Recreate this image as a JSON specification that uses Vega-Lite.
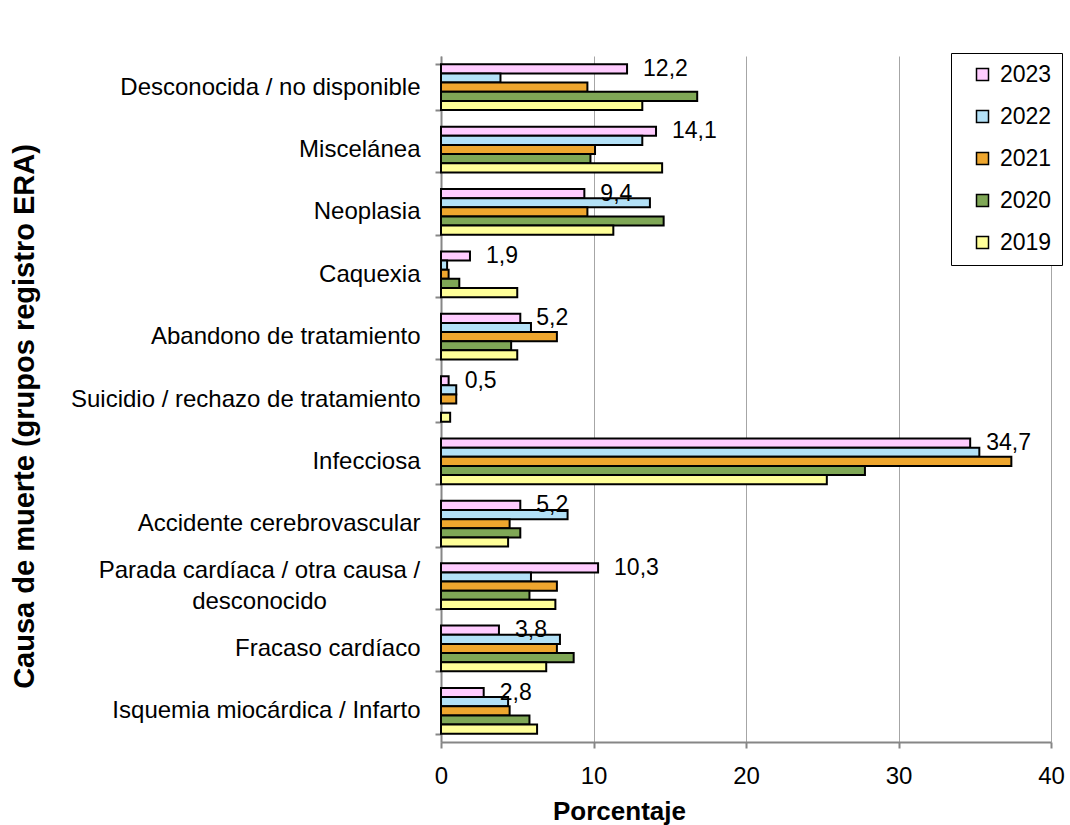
{
  "$schema": "https://vega.github.io/schema/vega-lite/v6.json",
  "width": 610,
  "height": 686,
  "autosize": {"type": "none"},
  "padding": {"left": 441, "top": 56, "right": 19, "bottom": 83},
  "background": "white",
  "config": {
    "font": "Liberation Sans",
    "locale": {"number": {"decimal": ",", "thousands": ".", "grouping": [3], "currency": ["", " €"]}},
    "view": {"stroke": null},
    "axis": {
      "domainColor": "#868686",
      "domainWidth": 2,
      "tickColor": "#868686",
      "tickWidth": 2,
      "tickSize": 6,
      "labelColor": "black",
      "titleColor": "black",
      "labelFont": "Liberation Sans",
      "titleFont": "Liberation Sans"
    }
  },
  "data": {
    "values": [
      {"cause": "Desconocida / no disponible", "year": "2023", "pct": 12.2},
      {"cause": "Desconocida / no disponible", "year": "2022", "pct": 3.9},
      {"cause": "Desconocida / no disponible", "year": "2021", "pct": 9.6},
      {"cause": "Desconocida / no disponible", "year": "2020", "pct": 16.8},
      {"cause": "Desconocida / no disponible", "year": "2019", "pct": 13.2},
      {"cause": "Miscelánea", "year": "2023", "pct": 14.1},
      {"cause": "Miscelánea", "year": "2022", "pct": 13.2},
      {"cause": "Miscelánea", "year": "2021", "pct": 10.1},
      {"cause": "Miscelánea", "year": "2020", "pct": 9.8},
      {"cause": "Miscelánea", "year": "2019", "pct": 14.5},
      {"cause": "Neoplasia", "year": "2023", "pct": 9.4},
      {"cause": "Neoplasia", "year": "2022", "pct": 13.7},
      {"cause": "Neoplasia", "year": "2021", "pct": 9.6},
      {"cause": "Neoplasia", "year": "2020", "pct": 14.6},
      {"cause": "Neoplasia", "year": "2019", "pct": 11.3},
      {"cause": "Caquexia", "year": "2023", "pct": 1.9},
      {"cause": "Caquexia", "year": "2022", "pct": 0.4},
      {"cause": "Caquexia", "year": "2021", "pct": 0.5},
      {"cause": "Caquexia", "year": "2020", "pct": 1.2},
      {"cause": "Caquexia", "year": "2019", "pct": 5.0},
      {"cause": "Abandono de tratamiento", "year": "2023", "pct": 5.2},
      {"cause": "Abandono de tratamiento", "year": "2022", "pct": 5.9},
      {"cause": "Abandono de tratamiento", "year": "2021", "pct": 7.6},
      {"cause": "Abandono de tratamiento", "year": "2020", "pct": 4.6},
      {"cause": "Abandono de tratamiento", "year": "2019", "pct": 5.0},
      {"cause": "Suicidio / rechazo de tratamiento", "year": "2023", "pct": 0.5},
      {"cause": "Suicidio / rechazo de tratamiento", "year": "2022", "pct": 1.0},
      {"cause": "Suicidio / rechazo de tratamiento", "year": "2021", "pct": 1.0},
      {"cause": "Suicidio / rechazo de tratamiento", "year": "2019", "pct": 0.6},
      {"cause": "Infecciosa", "year": "2023", "pct": 34.7},
      {"cause": "Infecciosa", "year": "2022", "pct": 35.3},
      {"cause": "Infecciosa", "year": "2021", "pct": 37.4},
      {"cause": "Infecciosa", "year": "2020", "pct": 27.8},
      {"cause": "Infecciosa", "year": "2019", "pct": 25.3},
      {"cause": "Accidente cerebrovascular", "year": "2023", "pct": 5.2},
      {"cause": "Accidente cerebrovascular", "year": "2022", "pct": 8.3},
      {"cause": "Accidente cerebrovascular", "year": "2021", "pct": 4.5},
      {"cause": "Accidente cerebrovascular", "year": "2020", "pct": 5.2},
      {"cause": "Accidente cerebrovascular", "year": "2019", "pct": 4.4},
      {"cause": "Parada cardíaca / otra causa / desconocido", "year": "2023", "pct": 10.3},
      {"cause": "Parada cardíaca / otra causa / desconocido", "year": "2022", "pct": 5.9},
      {"cause": "Parada cardíaca / otra causa / desconocido", "year": "2021", "pct": 7.6},
      {"cause": "Parada cardíaca / otra causa / desconocido", "year": "2020", "pct": 5.8},
      {"cause": "Parada cardíaca / otra causa / desconocido", "year": "2019", "pct": 7.5},
      {"cause": "Fracaso cardíaco", "year": "2023", "pct": 3.8},
      {"cause": "Fracaso cardíaco", "year": "2022", "pct": 7.8},
      {"cause": "Fracaso cardíaco", "year": "2021", "pct": 7.6},
      {"cause": "Fracaso cardíaco", "year": "2020", "pct": 8.7},
      {"cause": "Fracaso cardíaco", "year": "2019", "pct": 6.9},
      {"cause": "Isquemia miocárdica / Infarto", "year": "2023", "pct": 2.8},
      {"cause": "Isquemia miocárdica / Infarto", "year": "2022", "pct": 4.4},
      {"cause": "Isquemia miocárdica / Infarto", "year": "2021", "pct": 4.5},
      {"cause": "Isquemia miocárdica / Infarto", "year": "2020", "pct": 5.8},
      {"cause": "Isquemia miocárdica / Infarto", "year": "2019", "pct": 6.3}
    ]
  },
  "encoding": {
    "y": {
      "field": "cause",
      "type": "nominal",
      "sort": ["Desconocida / no disponible", "Miscelánea", "Neoplasia", "Caquexia", "Abandono de tratamiento", "Suicidio / rechazo de tratamiento", "Infecciosa", "Accidente cerebrovascular", "Parada cardíaca / otra causa / desconocido", "Fracaso cardíaco", "Isquemia miocárdica / Infarto"],
      "scale": {"paddingInner": 0.267, "paddingOuter": 0.1335},
      "axis": {
        "title": "Causa de muerte (grupos registro ERA)",
        "tickBand": "extent",
        "labelFontSize": 24,
        "labelPadding": {"condition": {"test": "datum.value == 'Parada cardíaca / otra causa / desconocido'", "value": 176}, "value": 15},
        "labelAlign": {"condition": {"test": "datum.value == 'Parada cardíaca / otra causa / desconocido'", "value": "center"}, "value": "right"},
        "labelOffset": {"condition": {"test": "datum.value == 'Parada cardíaca / otra causa / desconocido'", "value": -16}, "value": 0},
        "labelLimit": 500,
        "labelLineHeight": 31,
        "labelExpr": "datum.value == 'Parada cardíaca / otra causa / desconocido' ? ['Parada cardíaca / otra causa /', 'desconocido'] : datum.label",
        "titleFontSize": 29,
        "titleFontWeight": "bold",
        "titleX": -402,
        "titleY": 360,
        "titleAlign": "center",
        "titleBaseline": "bottom",
        "titleAngle": -90
      }
    },
    "yOffset": {
      "field": "year",
      "type": "nominal",
      "sort": ["2023", "2022", "2021", "2020", "2019"],
      "scale": {"paddingInner": 0, "paddingOuter": 0}
    }
  },
  "layer": [
    {
      "mark": {"type": "bar", "stroke": "black", "strokeWidth": 2, "opacity": 1},
      "encoding": {
        "x": {
          "field": "pct",
          "type": "quantitative",
          "scale": {"domain": [0, 40], "nice": false},
          "axis": {
            "title": "Porcentaje",
            "values": [0, 10, 20, 30, 40],
            "grid": true,
            "gridColor": "#A6A6A6",
            "gridWidth": 1,
            "labelFontSize": 24,
            "labelFlush": false,
            "labelBaseline": "alphabetic",
            "labelPadding": 35,
            "titleFontSize": 26,
            "titleFontWeight": "bold",
            "titleX": 178,
            "titleY": 77,
            "titleBaseline": "alphabetic",
            "titleAlign": "center"
          }
        },
        "color": {
          "field": "year",
          "type": "nominal",
          "scale": {
            "domain": ["2023", "2022", "2021", "2020", "2019"],
            "range": ["#FFCCFF", "#B3E1F7", "#EEA62E", "#7FA756", "#FFFF99"]
          },
          "legend": {
            "orient": "none",
            "legendX": 510,
            "legendY": -3,
            "title": null,
            "strokeColor": "black",
            "fillColor": "white",
            "padding": 10,
            "symbolType": "square",
            "symbolSize": 144,
            "symbolStrokeColor": "black",
            "symbolStrokeWidth": 1.5,
            "symbolOpacity": 1,
            "symbolOffset": 10,
            "labelFontSize": 23,
            "labelColor": "black",
            "labelOffset": 6,
            "rowPadding": 18,
            "labelExpr": "datum.label + '\u00a0\u00a0'"
          }
        }
      }
    },
    {
      "transform": [{"filter": "datum.year == '2023'"}],
      "mark": {"type": "text", "align": "left", "baseline": "middle", "dx": 16, "fontSize": 23, "color": "black"},
      "encoding": {
        "x": {"field": "pct", "type": "quantitative"},
        "text": {"field": "pct", "type": "quantitative", "format": ".1f"}
      }
    }
  ]
}
